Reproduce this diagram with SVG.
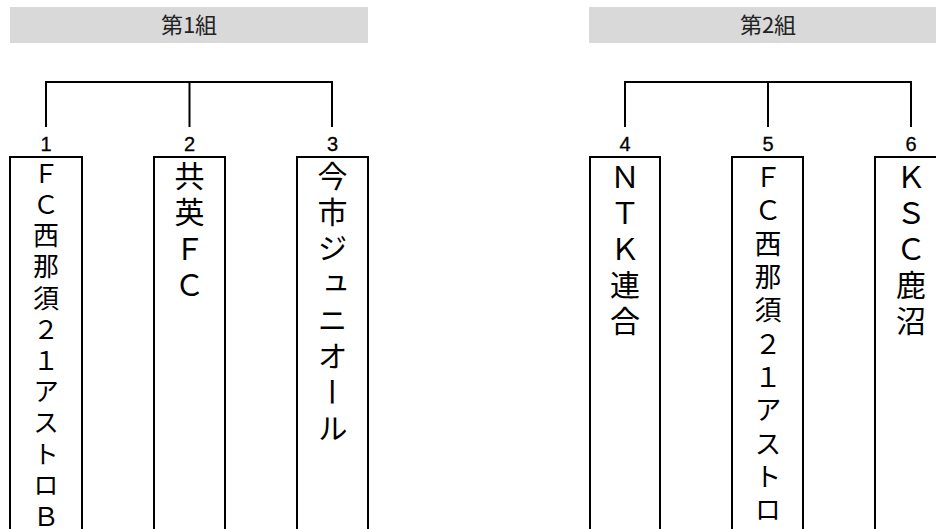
<svg xmlns="http://www.w3.org/2000/svg" width="936" height="529" viewBox="0 0 936 529">
<style>
.hdr{fill:#d9d9d9}
.ht{font-family:"Noto Sans CJK JP","Noto Sans",sans-serif;font-size:22px;fill:#222;text-anchor:middle}
.num{font-family:"Liberation Sans",Arial,sans-serif;font-size:20px;fill:#000;stroke:#000;stroke-width:0.3;text-anchor:middle}
.box{fill:#fff;stroke:#000;stroke-width:2}
.ln{fill:none;stroke:#000;stroke-width:2}
.vt{font-family:"Noto Sans CJK JP","Noto Sans",sans-serif;fill:#000;writing-mode:vertical-rl}
</style>
<rect width="936" height="529" fill="#fff"/>
<g id="header1"><rect class="hdr" x="10" y="7" width="358" height="36"/><text class="ht" x="189" y="33">第1組</text></g>
<g id="header2"><rect class="hdr" x="589" y="7" width="360" height="36"/><text class="ht" x="768" y="33">第2組</text></g>
<g id="connectors">
<path class="ln" d="M46,127 V82 H332 V127 M189.5,82 V127"/>
<path class="ln" d="M625,127 V82 H911 V127 M768,82 V127"/>
</g>
<g id="team1"><rect class="box" x="10" y="157" width="72" height="390"/><text class="num" x="46" y="151">1</text>
<text class="vt" x="46" font-size="26" y="160 191.2 222.4 253.6 284.8 316 347.2 378.4 409.6 440.8 472 503.2">ＦＣ西那須２１アストロＢ</text></g>
<g id="team2"><rect class="box" x="154" y="157" width="71" height="390"/><text class="num" x="189.5" y="151">2</text>
<text class="vt" x="189.5" font-size="30" y="161 197 234 270">共英ＦＣ</text></g>
<g id="team3"><rect class="box" x="297" y="157" width="71" height="390"/><text class="num" x="332.5" y="151">3</text>
<text class="vt" x="332.5" font-size="30" y="161 197 233 269 305 341 377 413">今市ジュニオール</text></g>
<g id="team4"><rect class="box" x="590" y="157" width="70" height="390"/><text class="num" x="625" y="151">4</text>
<text class="vt" x="625" font-size="30" y="162 198 234 270 306">ＮＴＫ連合</text></g>
<g id="team5"><rect class="box" x="732" y="157" width="71" height="390"/><text class="num" x="768" y="151">5</text>
<text class="vt" x="768" font-size="27" y="163.5 196.8 230.1 263.4 296.7 330 363.3 396.6 429.9 463.2 496.5">ＦＣ西那須２１アストロ</text></g>
<g id="team6"><rect class="box" x="875" y="157" width="71" height="390"/><text class="num" x="911" y="151">6</text>
<text class="vt" x="911" font-size="30" y="162 198 234 270 306">ＫＳＣ鹿沼</text></g>
</svg>
